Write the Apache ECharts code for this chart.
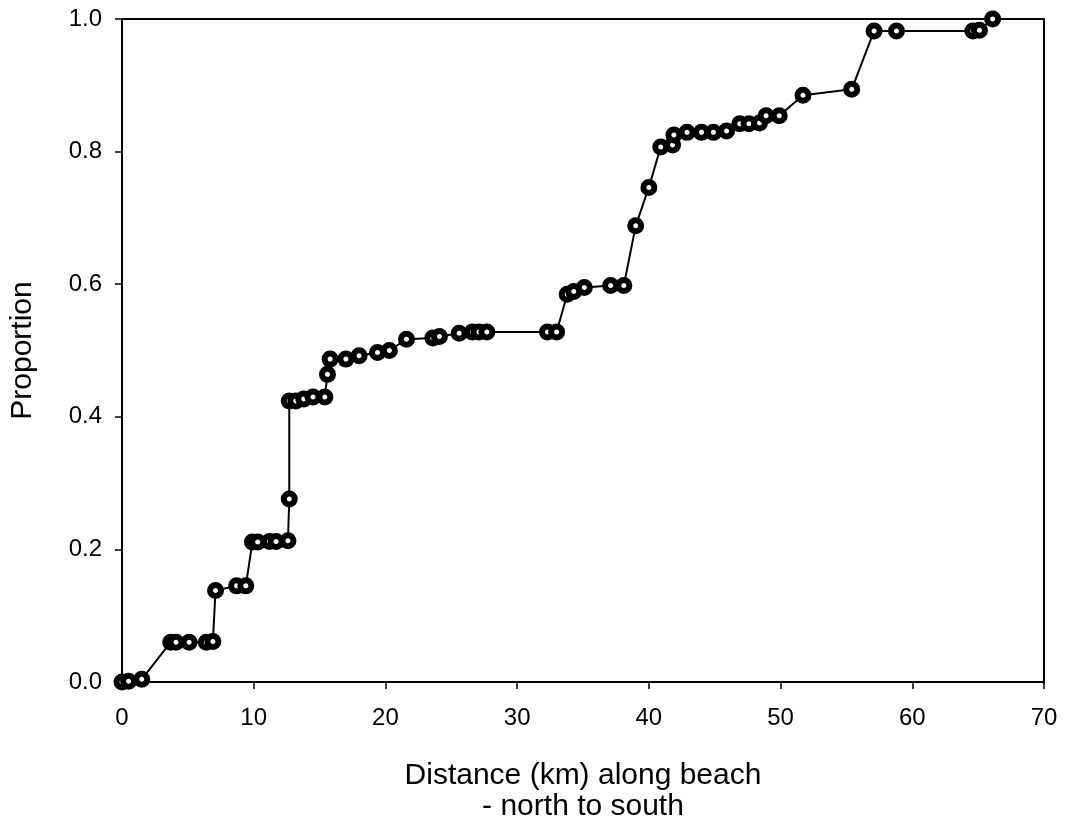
<!DOCTYPE html>
<html>
<head>
<meta charset="utf-8">
<script src="https://cdn.jsdelivr.net/npm/echarts@6/dist/echarts.min.js"></script>
<style>
  html, body { margin: 0; padding: 0; background: #fff; }
  #chart { width: 1066px; height: 832px; }
</style>
</head>
<body>
<div id="chart"></div>
<script>
// distance along beach (km) and cumulative proportion
const distances = [
  0.0, 0.5, 1.5, 3.7, 4.1, 5.1, 6.4, 6.9, 7.1, 8.7, 9.4,
  9.9, 10.3, 11.2, 11.7, 12.6, 12.7, 12.7, 13.2, 13.8, 14.5, 15.4,
  15.6, 15.8, 17.0, 18.0, 19.4, 20.3, 21.6, 23.6, 24.1, 25.6, 26.6, 27.1, 27.7,
  32.3, 33.0, 33.8, 34.3, 35.1, 37.1, 38.1, 39.0, 40.0, 40.9, 41.8, 41.9,
  42.9, 44.0, 44.9, 45.9, 46.9, 47.6, 48.4, 48.9, 49.9, 51.7, 55.4,
  57.1, 58.8, 64.6, 65.1, 66.1
]
const proportions = [
  0, 0.001, 0.004, 0.06, 0.06, 0.06, 0.06, 0.061, 0.138, 0.145, 0.145,
  0.211, 0.211, 0.212, 0.212, 0.213, 0.276, 0.424, 0.424, 0.427, 0.43, 0.43,
  0.464, 0.487, 0.487, 0.492, 0.497, 0.5, 0.517, 0.519, 0.521, 0.526, 0.528, 0.528, 0.528,
  0.528, 0.528, 0.585, 0.589, 0.595, 0.598, 0.598, 0.688, 0.746, 0.807, 0.81, 0.825,
  0.829, 0.829, 0.829, 0.831, 0.842, 0.842, 0.843, 0.854, 0.854, 0.885, 0.894,
  0.982, 0.982, 0.982, 0.983, 1.0
]
const xTicks = [0, 10, 20, 30, 40, 50, 60, 70]
const yTicks = [0, 0.2, 0.4, 0.6, 0.8, 1.0]

const font = 'Liberation Sans, Arial, sans-serif'
const chart = echarts.init(document.getElementById('chart'), null, { renderer: 'canvas' })

chart.setOption({
  animation: false,
  backgroundColor: '#fff',
  grid: {
    left: 122, right: 22, top: 19, bottom: 150,
    outerBoundsMode: 'none',
    containLabel: false,
    show: true, borderColor: '#000', borderWidth: 2
  },
  xAxis: {
    type: 'value',
    min: xTicks[0], max: xTicks[xTicks.length - 1], interval: 10,
    name: 'Distance (km) along beach\n- north to south',
    nameLocation: 'middle',
    nameGap: 78,
    nameTextStyle: { color: '#000', fontFamily: font, fontSize: 30, lineHeight: 31 },
    axisLine: { lineStyle: { color: '#000', width: 2 } },
    axisTick: { inside: false, length: 7, lineStyle: { color: '#000', width: 1.5 } },
    axisLabel: { color: '#000', fontFamily: font, fontSize: 24, margin: 24 },
    splitLine: { show: false }
  },
  yAxis: {
    type: 'value',
    min: yTicks[0], max: yTicks[yTicks.length - 1], interval: 0.2,
    name: 'Proportion',
    nameLocation: 'middle',
    nameGap: 84,
    nameTextStyle: { color: '#000', fontFamily: font, fontSize: 30 },
    axisLine: { lineStyle: { color: '#000', width: 2 } },
    axisTick: { inside: false, length: 7, lineStyle: { color: '#000', width: 1.5 } },
    axisLabel: {
      color: '#000', fontFamily: font, fontSize: 24, margin: 20,
      formatter: v => v.toFixed(1)
    },
    splitLine: { show: false }
  },
  series: [{
    type: 'line',
    data: distances.map((d, i) => [d, proportions[i]]),
    symbol: 'circle',
    symbolSize: 11,
    showAllSymbol: true,
    clip: false,
    lineStyle: { color: '#000', width: 2 },
    itemStyle: { color: '#fff', borderColor: '#000', borderWidth: 6 }
  }]
})
</script>
</body>
</html>
